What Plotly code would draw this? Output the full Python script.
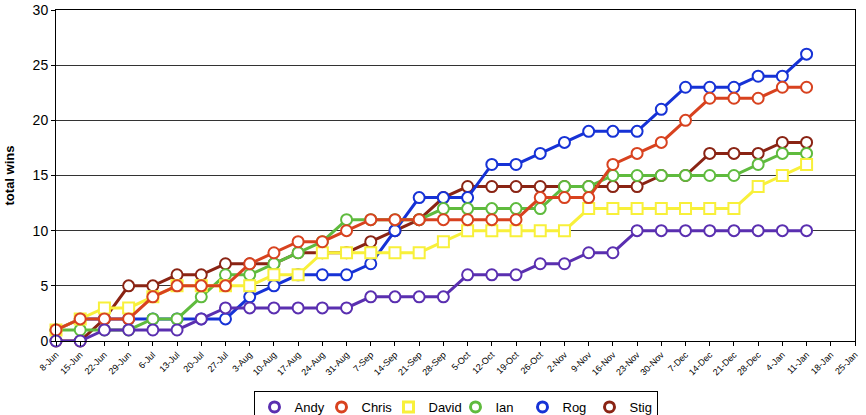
import pandas as pd
import plotly.graph_objects as go

# Weekly dates (8-Jun to 11-Jan)
weeks = pd.date_range("2008-06-08", periods=32, freq="7D")

andy  = [0,0,1,1,1,1,2,3,3,3,3,3,3,4,4,4,4,6,6,6,7,7,8,8,10,10,10,10,10,10,10,10]
chris = [1,2,2,2,4,5,5,5,7,8,9,9,10,11,11,11,11,11,11,11,13,13,13,16,17,18,20,22,22,22,23,23]
david = [1,2,3,3,4,5,5,5,5,6,6,8,8,8,8,8,9,10,10,10,10,10,12,12,12,12,12,12,12,14,15,16]
ian   = [1,1,1,1,2,2,4,6,6,7,8,9,11,11,11,11,12,12,12,12,12,14,14,15,15,15,15,15,15,16,17,17]
rog   = [1,2,2,2,2,2,2,2,4,5,6,6,6,7,10,13,13,13,16,16,17,18,19,19,19,21,23,23,23,24,24,26]
stig  = [0,0,2,5,5,6,6,7,7,7,8,8,8,9,10,11,13,14,14,14,14,14,14,14,14,15,15,17,17,17,18,18]

names = ["Andy", "Chris", "David", "Ian", "Rog", "Stig"]
values = [andy, chris, david, ian, rog, stig]
colors = ["#5a2fb0", "#d8421f", "#f8f03a", "#5fbb3e", "#1632d6", "#8a2414"]
symbols = ["circle", "circle", "square", "circle", "circle", "circle"]

font = "Liberation Sans, Arial, sans-serif"

fig = go.Figure()
# draw Stig first so Andy ends on top
for name, vals, col, sym in reversed(list(zip(names, values, colors, symbols))):
    fig.add_trace(go.Scatter(
        x=weeks, y=vals, name=name, mode="lines+markers",
        line=dict(color=col, width=3),
        marker=dict(symbol=sym, size=11, color="white", line=dict(color=col, width=2)),
        cliponaxis=False, showlegend=False, legendgroup=name,
    ))

# legend entries (marker only, like the reference legend)
for name, col, sym in zip(names, colors, symbols):
    fig.add_trace(go.Scatter(
        x=[None], y=[None], name=name, mode="markers",
        marker=dict(symbol=sym, size=10, color="white", line=dict(color=col, width=3)),
        showlegend=True, legendgroup=name,
    ))

fig.update_layout(
    width=866, height=415,
    margin=dict(l=56, r=11, t=10, b=74),
    paper_bgcolor="white", plot_bgcolor="white",
    font=dict(family=font, color="black"),
    showlegend=True,
    legend=dict(
        orientation="h", x=0.5, xanchor="center",
        yref="container", y=0.058, yanchor="top",
        traceorder="normal", bordercolor="black", borderwidth=1,
        font=dict(size=13, family=font), bgcolor="white",
        entrywidth=22, entrywidthmode="pixels",
    ),
    xaxis=dict(
        type="date",
        range=["2008-06-08", "2009-01-25"],
        tick0="2008-06-08", dtick=7 * 86400000,
        tickformat="%-d-%b", tickangle=-45,
        tickfont=dict(size=9, family=font),
        ticks="outside", ticklen=4, tickcolor="black",
        showline=True, linecolor="black", linewidth=1, mirror=True,
        showgrid=False, zeroline=False, automargin=False,
    ),
    yaxis=dict(
        range=[0, 30], dtick=5,
        tickfont=dict(size=14, family=font),
        ticks="outside", ticklen=4, tickcolor="black",
        showline=True, linecolor="black", linewidth=1, mirror=True,
        showgrid=True, gridcolor="#333333", gridwidth=1,
        zeroline=False, automargin=False,
        title=dict(text="<b>total wins</b>", font=dict(size=13, family=font), standoff=15),
    ),
)

fig.write_html(
    "out.html",
    config={"displayModeBar": False},
    post_script="document.body.style.margin='0px';document.body.style.padding='0px';",
)
